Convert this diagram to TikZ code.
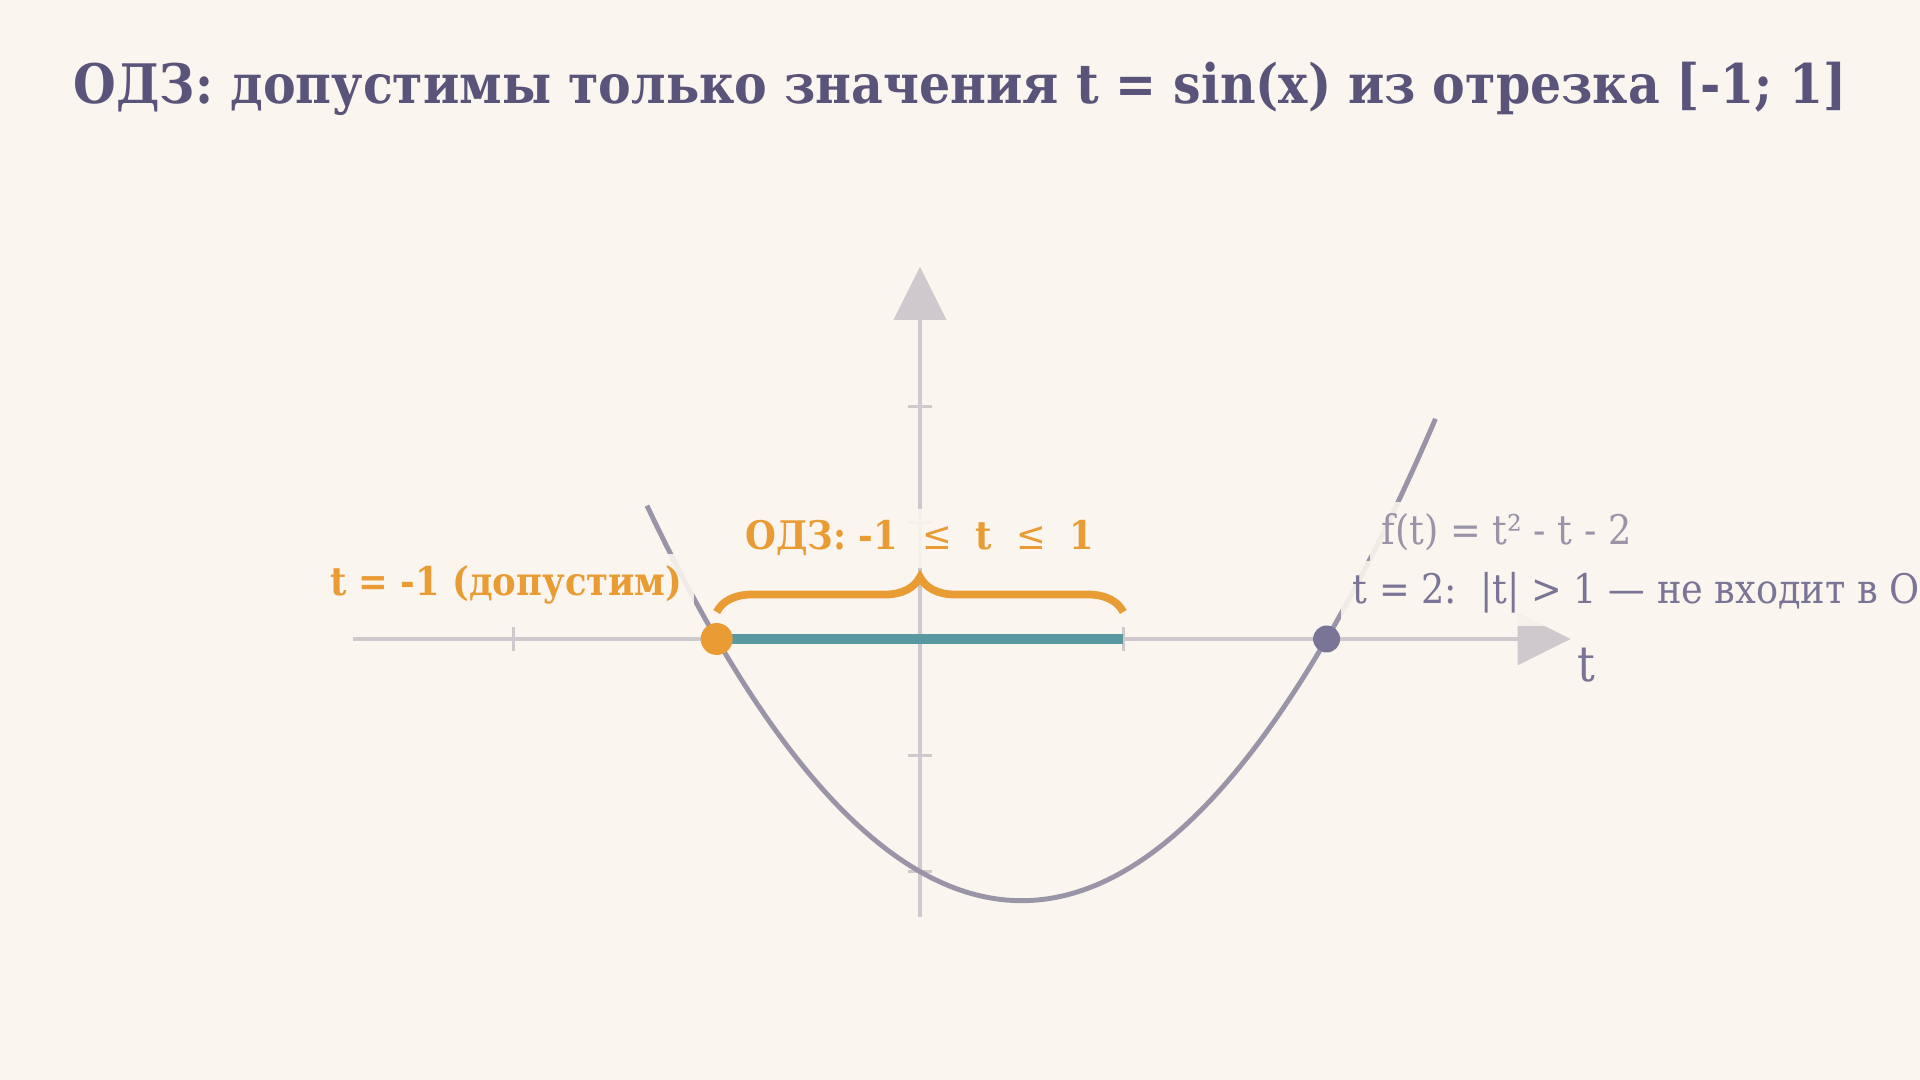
\documentclass[tikz,border=0pt]{standalone}
\usepackage{fontspec}
\setmainfont{DejaVu Serif Condensed}
\usetikzlibrary{arrows.meta,decorations.pathreplacing}

\definecolor{bgcol}{HTML}{FAF5EE}
\definecolor{titlecol}{HTML}{5A537A}
\definecolor{odzcol}{HTML}{E99C34}
\definecolor{segcol}{HTML}{5A98A0}
\definecolor{curvecol}{HTML}{9A94A8}
\definecolor{axiscol}{HTML}{CDC9CD}
\definecolor{rootcol}{HTML}{7A7596}

\newcommand{\leqthin}{{\mdseries ≤}}
\newcommand{\gap}{\hspace{0.24cm}}

\begin{document}
\begin{tikzpicture}[x=2.033cm,y=1.163cm,
    axis/.style={draw=axiscol,line width=1pt},
    axis tip/.style={-{Triangle[length=0.53cm,width=0.52cm,fill=axiscol]}},
    curve/.style={draw=curvecol,line width=1.4pt},
    segm/.style={draw=segcol,line width=2.85pt},
    odzbrace/.style={draw=odzcol,line width=2.2pt,decorate,decoration={brace,amplitude=0.35cm}},
    label box/.style={fill=bgcol,fill opacity=0.9,text opacity=1,inner sep=0.12cm},
    dot/.style={circle,inner sep=0pt}]

    \useasboundingbox[fill=bgcol] (-9.2cm,-4.41cm) rectangle (10cm,6.39cm);

    % axes
    \coordinate (xl) at (-2.79,0);
    \coordinate (xr) at (3.20,0);
    \coordinate (yb) at (0,-2.39);
    \coordinate (yt) at (0,3.20);
    \draw[axis,axis tip] (xl) -- (xr);
    \draw[axis,axis tip] (yb) -- (yt);
    \foreach \x in {-2,-1,1,2}
        \draw[axis] ([yshift=-0.12cm]\x,0) -- ([yshift=0.12cm]\x,0);
    \foreach \y in {-2,-1,1,2}
        \draw[axis] ([xshift=-0.12cm]0,\y) -- ([xshift=0.12cm]0,\y);

    % domain and parabola
    \coordinate (tm1) at (-1,0);
    \coordinate (tp1) at (1,0);
    \draw[segm] (tm1) -- (tp1);
    \draw[curve] plot[domain=-1.343:2.536,samples=120,smooth] (\x,{\x*\x-\x-2});

    \coordinate (bl) at (-1,0.232);
    \coordinate (br) at (1,0.232);
    \draw[odzbrace] (bl) -- (br);

    % labels
    \node[label box,anchor=base,text=odzcol,font=\bfseries\fontsize{11.2}{14}\selectfont] (odz) at (0cm,0.89cm) {ОДЗ: -1\gap\leqthin\gap t\gap\leqthin\gap 1};
    \node[label box,anchor=base east,text=odzcol,font=\bfseries\fontsize{11.2}{14}\selectfont] (left) at (-2.25cm,0.43cm) {t = -1 (допустим)};
    \node[label box,anchor=base west,text=curvecol,font=\fontsize{11.6}{14}\selectfont] (func) at (4.49cm,0.94cm) {f(t) = t² - t - 2};
    \node[label box,anchor=base west,text=rootcol,font=\fontsize{11.6}{14}\selectfont] (right) at (4.20cm,0.35cm) {t = 2:\ \ |t|\ > 1 — не входит в ОДЗ};
    \node[anchor=base,text=rootcol,font=\fontsize{14}{16}\selectfont] (tlab) at (6.66cm,-0.43cm) {t};

    % points
    \node[dot,fill=odzcol,minimum size=0.32cm] (pm1) at (tm1) {};
    \node[dot,fill=rootcol,minimum size=0.27cm] (p2) at (2,0) {};

    \node[anchor=base west,inner sep=0pt,text=titlecol,font=\bfseries\fontsize{15.5}{19}\selectfont] (title) at (-8.47cm,5.35cm) {ОДЗ: допустимы только значения t = sin(x) из отрезка [-1; 1]};
\end{tikzpicture}
\end{document}
